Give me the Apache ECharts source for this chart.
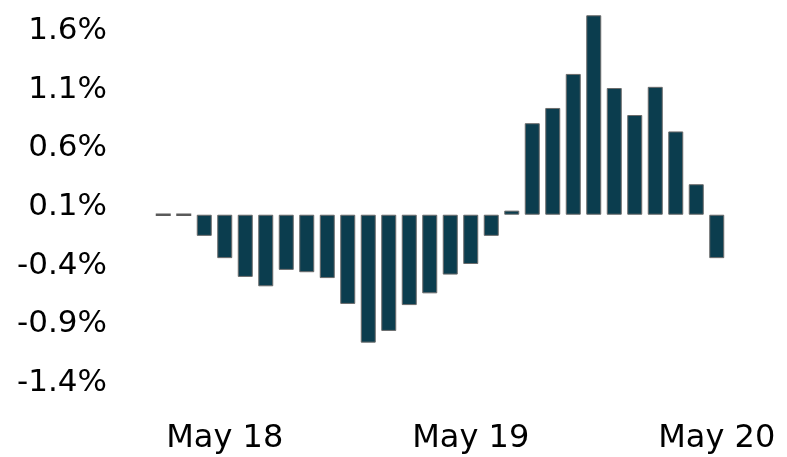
<!DOCTYPE html>
<html>
<head>
<meta charset="utf-8">
<script src="https://cdn.jsdelivr.net/npm/echarts@6/dist/echarts.min.js"></script>
<style>
html,body{margin:0;padding:0;background:#fff;}
#chart{width:787px;height:457px;}
</style>
</head>
<body>
<div id="chart"></div>
<script>
var categories = ['Feb 18','Mar 18','Apr 18','May 18','Jun 18','Jul 18','Aug 18','Sep 18','Oct 18','Nov 18','Dec 18',
  'Jan 19','Feb 19','Mar 19','Apr 19','May 19','Jun 19','Jul 19','Aug 19','Sep 19','Oct 19','Nov 19','Dec 19',
  'Jan 20','Feb 20','Mar 20','Apr 20','May 20'];
var values = [0, 0, -0.18, -0.37, -0.53, -0.61, -0.47, -0.49, -0.54, -0.76, -1.09,
  -0.99, -0.77, -0.67, -0.51, -0.42, -0.18, 0.035, 0.78, 0.91, 1.20, 1.70, 1.08,
  0.85, 1.09, 0.71, 0.26, -0.37];
var xLabelCategories = ['May 18', 'May 19', 'May 20'];
var yTickValues = [-1.4, -0.9, -0.4, 0.1, 0.6, 1.1, 1.6];
var yTickLabels = ['-1.4%', '-0.9%', '-0.4%', '0.1%', '0.6%', '1.1%', '1.6%'];

var seriesData = values.map(function (v) {
  if (v === 0) {
    return {value: v, itemStyle: {borderColor: '#5a5a5a', borderWidth: 2.5}};
  }
  return v;
});

var chart = echarts.init(document.getElementById('chart'), null, {renderer: 'canvas'});
chart.setOption({
  animation: false,
  backgroundColor: '#ffffff',
  grid: {left: 153, width: 574, top: 27, height: 352, containLabel: false},
  xAxis: {
    type: 'category',
    data: categories,
    axisLine: {show: false},
    axisTick: {show: false},
    splitLine: {show: false},
    axisLabel: {
      interval: 0,
      margin: 44,
      color: '#000',
      fontFamily: 'DejaVu Sans',
      fontSize: 32,
      formatter: function (v) { return xLabelCategories.indexOf(v) >= 0 ? v : ''; }
    }
  },
  yAxis: {
    type: 'value',
    min: -1.4,
    max: 1.6,
    interval: 0.1,
    axisLine: {show: false},
    axisTick: {show: false},
    splitLine: {show: false},
    axisLabel: {
      margin: 46,
      color: '#000',
      fontFamily: 'DejaVu Sans',
      fontSize: 31,
      formatter: function (v) {
        for (var i = 0; i < yTickValues.length; i++) {
          if (Math.abs(v - yTickValues[i]) < 1e-6) return '{t|' + yTickLabels[i] + '}';
        }
        return '';
      },
      rich: {
        t: {
          color: '#000',
          fontFamily: 'DejaVu Sans',
          fontSize: 31,
          padding: [8, 0, 0, 0]
        }
      }
    }
  },
  series: [{
    type: 'bar',
    data: seriesData,
    barWidth: 15,
    clip: false,
    itemStyle: {color: '#0b3d4e', borderColor: '#6b6b6b', borderWidth: 1}
  }]
});
</script>
</body>
</html>
